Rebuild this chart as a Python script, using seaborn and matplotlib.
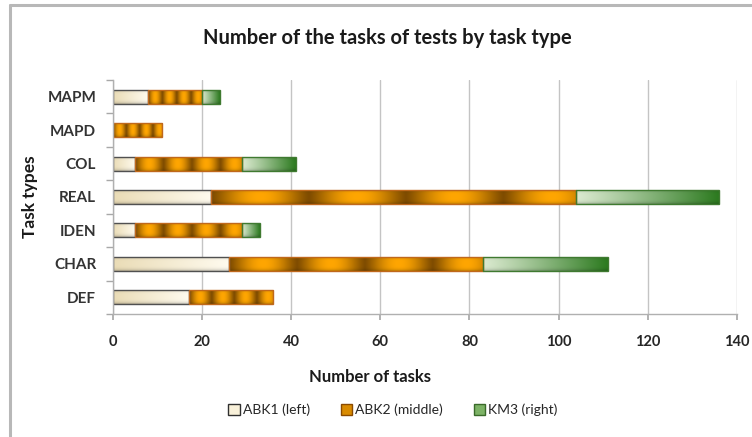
import numpy as np
import pandas as pd
import seaborn as sns
import matplotlib.pyplot as plt
from matplotlib.colors import to_rgb
from matplotlib.patches import Patch
from matplotlib.lines import Line2D

# data, top to bottom as in the chart
task_types = ["MAPM", "MAPD", "COL", "REAL", "IDEN", "CHAR", "DEF"]
abk1 = [8, 0, 5, 22, 5, 26, 17]
abk2 = [12, 11, 24, 82, 24, 57, 19]
km3 = [4, 0, 12, 32, 4, 28, 0]
series_names = ["ABK1 (left)", "ABK2 (middle)", "KM3 (right)"]
x_ticks = [0, 20, 40, 60, 80, 100, 120, 140]

sns.set_theme(style="white")
plt.rcParams["font.family"] = ["Lato", "DejaVu Sans"]

df = pd.DataFrame({"task": task_types, "abk1": abk1, "abk2": abk2, "km3": km3})
df["left1"] = 0
df["left2"] = df["abk1"]
df["left3"] = df["abk1"] + df["abk2"]


def lerp(c1, c2, t):
    a = np.array(to_rgb(c1))
    b = np.array(to_rgb(c2))
    t = np.asarray(t)[..., None]
    return a + (b - a) * t


def fill_image(kind, n=300, m=24):
    t = np.linspace(0, 1, n)
    v = np.linspace(-1, 1, m)[:, None, None]
    shade = 1 - 0.22 * v ** 4
    if kind == 0:
        row = lerp("#eadcb6", "#fffbef", t)
    elif kind == 1:
        s = (1 - np.cos(2 * np.pi * 3.75 * t)) / 2
        row = lerp("#7f4c00", "#ffa602", s ** 0.6)
    else:
        row = lerp("#dbead0", "#2c7a1f", t ** 1.1)
    img = row[None, :, :] * shade
    return np.clip(img, 0, 1)


edge_cols = ["#505050", "#c0681c", "#3f7a30"]
legend_faces = ["#f9f1da", "#d98b00", "#7db366"]
legend_edges = ["#303030", "#8a4a00", "#3a6a2a"]

fig = plt.figure(figsize=(7.52, 4.37), dpi=100)
ax = fig.add_axes([0.150, 0.2815, 0.830, 0.5355])

groups = []
for col, left in [("abk1", "left1"), ("abk2", "left2"), ("km3", "left3")]:
    before = len(ax.patches)
    sns.barplot(data=df, y="task", x=col, order=task_types, orient="y",
                width=0.42, errorbar=None, ax=ax, color="white",
                left=df[left].values)
    groups.append(ax.patches[before:])

for k, patches in enumerate(groups):
    for p in patches:
        w = p.get_width()
        if w <= 0:
            p.set_visible(False)
            continue
        x0, y0, h = p.get_x(), p.get_y(), p.get_height()
        p.set_facecolor("none")
        p.set_edgecolor(edge_cols[k])
        p.set_linewidth(1.0)
        p.set_zorder(2)
        im = ax.imshow(fill_image(k), extent=(x0, x0 + w, y0 + h, y0),
                       aspect="auto", zorder=1.5, interpolation="bilinear")
        im.set_clip_path(p)

ax.set_xlim(0, 140)
ax.set_ylim(6.5, -0.5)
ax.set_axisbelow(True)
ax.set_xticks(x_ticks)
ax.xaxis.grid(True, color="#c4c4c4", lw=1)
ax.yaxis.grid(False)

ax.set_yticks(range(len(task_types)))
ax.set_yticklabels(task_types)
ax.set_yticks(np.arange(-0.5, len(task_types), 1), minor=True)

ax.tick_params(axis="x", bottom=True, length=4, color="#a8a8a8", pad=11,
               labelsize=10.5, labelcolor="#262626")
for t in ax.get_xticklabels():
    t.set_fontweight("bold")
ax.tick_params(axis="y", which="major", left=True, length=0, pad=12,
               labelsize=11, labelcolor="#333333")
ax.tick_params(axis="y", which="minor", left=True, length=5, color="#a8a8a8")
for t in ax.get_yticklabels():
    t.set_fontweight("bold")

for s in ["top", "right"]:
    ax.spines[s].set_visible(False)
for s in ["left", "bottom"]:
    ax.spines[s].set_color("#b0b0b0")
    ax.spines[s].set_linewidth(1)

ax.set_xlabel("Number of tasks", fontsize=12, fontweight="bold", color="#1a1a1a")
ax.set_ylabel("Task types", fontsize=12.5, fontweight="bold", color="#1a1a1a")
ax.xaxis.set_label_coords(0.412, -0.235)
ax.yaxis.set_label_coords(-0.12, 0.5)

fig.text(387 / 752, 1 - 38 / 437, "Number of the tasks of tests by task type",
         ha="center", va="center", fontsize=14.5, fontweight="bold", color="#1a1a1a")

handles = [Patch(facecolor=f, edgecolor=e, linewidth=1, label=n)
           for f, e, n in zip(legend_faces, legend_edges, series_names)]
fig.legend(handles=handles, loc="center", bbox_to_anchor=(393 / 752, 1 - 410 / 437),
           ncol=3, frameon=False, fontsize=10, handlelength=0.8, handleheight=0.8,
           handletextpad=0.25, columnspacing=2.2)

# chart-area border (only top and left edges are visible in the source)
fig.add_artist(Line2D([10 / 752, 10 / 752], [0, 1 - 5 / 437], transform=fig.transFigure,
                      color="#b8b8b8", lw=2.2))
fig.add_artist(Line2D([10 / 752, 1], [1 - 5 / 437, 1 - 5 / 437], transform=fig.transFigure,
                      color="#b8b8b8", lw=2.2))

fig.savefig("out.png", dpi=100)
